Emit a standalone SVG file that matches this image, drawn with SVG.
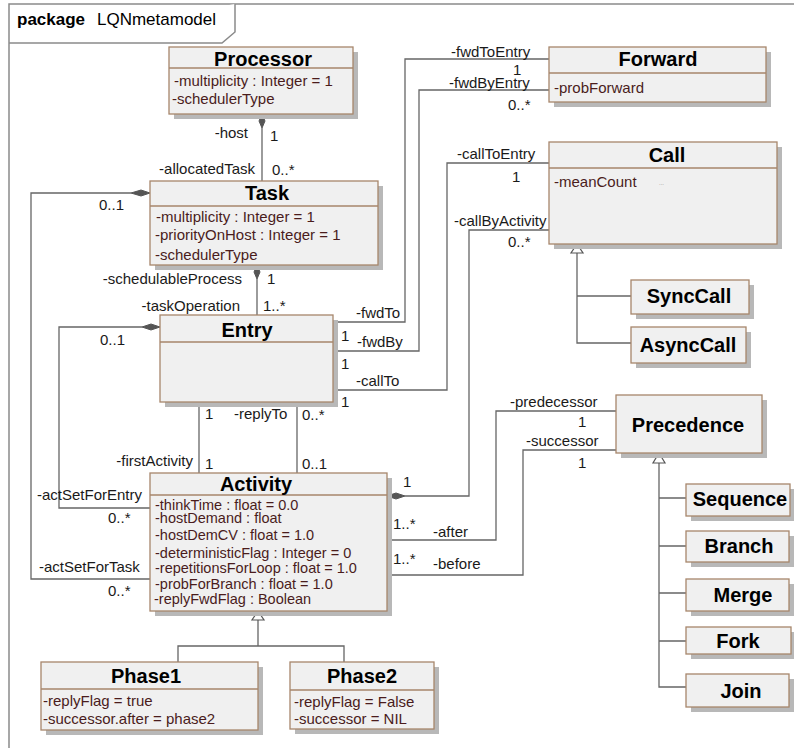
<svg xmlns="http://www.w3.org/2000/svg" width="794" height="748" viewBox="0 0 794 748">
<defs>
<style>
.frame{fill:#fff;stroke:#8a8a8a;stroke-width:1.5}
.sh{fill:#b8b8b8}
.box{fill:#f0f0f0;stroke:#a7866b;stroke-width:1.3}
.sep{stroke:#a7866b;stroke-width:1.3}
.t{font-family:"Liberation Sans",Arial,sans-serif;font-weight:bold;font-size:20px;fill:#000;text-anchor:middle}
.a{font-family:"Liberation Sans",Arial,sans-serif;font-size:15px;fill:#4a1c1c}
.aa{font-family:"Liberation Sans",Arial,sans-serif;font-size:14.5px;fill:#4a1c1c}
.l{font-family:"Liberation Sans",Arial,sans-serif;font-size:15px;fill:#1a1a1a}
.c{stroke:#666;stroke-width:1.3;fill:none}
.dia{fill:#555;stroke:#555;stroke-width:1}
.gen{fill:#fff;stroke:#555;stroke-width:1.2}
</style>
</defs>
<rect width="794" height="748" fill="#fff"/>
<g id="package">
<rect class="frame" x="9" y="4" width="800" height="760"/>
<path class="frame" d="M9,43 H222 L235,32 V4" fill="none"/>
<text x="17" y="25" font-family="Liberation Sans,Arial,sans-serif" font-size="17" font-weight="bold" fill="#000">package</text>
<text x="97" y="25" font-family="Liberation Sans,Arial,sans-serif" font-size="17" fill="#000">LQNmetamodel</text>
</g>
<g id="connectors">
<path class="c" d="M262,128 V181"/>
<path class="dia" d="M262,114 L265,121 L262,128 L259,121 Z"/>
<text class="l" x="248" y="138" text-anchor="end">-host</text>
<text class="l" x="270" y="141">1</text>
<text class="l" x="255" y="174" text-anchor="end">-allocatedTask</text>
<text class="l" x="272" y="175">0..*</text>
<path class="c" d="M131,193 H31 V579 H150"/>
<path class="dia" d="M150,193 L141,196 L131,193 L141,190 Z"/>
<text class="l" x="99" y="210">0..1</text>
<text class="l" x="39" y="572">-actSetForTask</text>
<text class="l" x="108" y="596">0..*</text>
<path class="c" d="M257,279 V315"/>
<path class="dia" d="M257,265 L260,272 L257,279 L254,272 Z"/>
<text class="l" x="242" y="284" text-anchor="end">-schedulableProcess</text>
<text class="l" x="267" y="284">1</text>
<text class="l" x="240" y="311" text-anchor="end">-taskOperation</text>
<text class="l" x="263" y="311">1..*</text>
<path class="c" d="M142,327 H59 V508 H150"/>
<path class="dia" d="M160,327 L151,330 L142,327 L151,324 Z"/>
<text class="l" x="100" y="345">0..1</text>
<text class="l" x="37" y="500">-actSetForEntry</text>
<text class="l" x="108" y="523">0..*</text>
<path class="c" d="M199,402 V473"/>
<path class="c" d="M297,402 V473"/>
<text class="l" x="205" y="419">1</text>
<text class="l" x="234" y="419">-replyTo</text>
<text class="l" x="302" y="420">0..*</text>
<text class="l" x="193" y="466" text-anchor="end">-firstActivity</text>
<text class="l" x="205" y="469">1</text>
<text class="l" x="302" y="469">0..1</text>
<path class="c" d="M549,59 H405 V322 H333"/>
<path class="c" d="M549,90 H419 V351 H333"/>
<text class="l" x="451" y="57">-fwdToEntry</text>
<text class="l" x="513" y="75">1</text>
<text class="l" x="449" y="88">-fwdByEntry</text>
<text class="l" x="508" y="110">0..*</text>
<text class="l" x="356" y="318">-fwdTo</text>
<text class="l" x="341" y="341">1</text>
<text class="l" x="357" y="347">-fwdBy</text>
<text class="l" x="341" y="369">1</text>
<path class="c" d="M549,163 H447 V390 H333"/>
<text class="l" x="457" y="159">-callToEntry</text>
<text class="l" x="512" y="182">1</text>
<text class="l" x="356" y="386">-callTo</text>
<text class="l" x="341" y="407">1</text>
<path class="c" d="M549,230 H469 V496 H405"/>
<path class="dia" d="M387,496 L396,493 L405,496 L396,499 Z"/>
<text class="l" x="454" y="226">-callByActivity</text>
<text class="l" x="508" y="247">0..*</text>
<text class="l" x="403" y="487">1</text>
<path class="c" d="M387,540 H496 V411 H616"/>
<path class="c" d="M387,575 H523 V450 H616"/>
<text class="l" x="510" y="407">-predecessor</text>
<text class="l" x="578" y="427">1</text>
<text class="l" x="526" y="446">-successor</text>
<text class="l" x="578" y="468">1</text>
<text class="l" x="393" y="529">1..*</text>
<text class="l" x="433" y="537">-after</text>
<text class="l" x="393" y="564">1..*</text>
<text class="l" x="433" y="569">-before</text>
<path class="c" d="M577,253 V343 H631 M577,296 H631"/>
<path class="gen" d="M577,244 L583,253 L571,253 Z"/>
<path class="c" d="M659,463 V687 H686 M659,498 H686 M659,546 H686 M659,593 H686 M659,641 H686"/>
<path class="gen" d="M659,453 L665,463 L653,463 Z"/>
<path class="c" d="M258,620 V646 M178,662 V646 H344 V662"/>
<path class="gen" d="M258,611 L264,620 L252,620 Z"/>
</g>
<g id="Processor">
<rect class="sh" x="174" y="52" width="184" height="67"/>
<rect class="box" x="169" y="47" width="184" height="67"/>
<line class="sep" x1="169" y1="68" x2="353" y2="68"/>
<text class="t" x="263" y="66">Processor</text>
<text class="a" x="174" y="86">-multiplicity : Integer = 1</text>
<text class="a" x="172" y="104">-schedulerType</text>
</g>
<g id="Task">
<rect class="sh" x="155" y="186" width="228" height="84"/>
<rect class="box" x="150" y="181" width="228" height="84"/>
<line class="sep" x1="150" y1="206" x2="378" y2="206"/>
<text class="t" x="267" y="200">Task</text>
<text class="a" x="156" y="222">-multiplicity : Integer = 1</text>
<text class="a" x="155" y="240">-priorityOnHost : Integer = 1</text>
<text class="a" x="155" y="260">-schedulerType</text>
</g>
<g id="Entry">
<rect class="sh" x="165" y="320" width="173" height="87"/>
<rect class="box" x="160" y="315" width="173" height="87"/>
<line class="sep" x1="160" y1="342" x2="333" y2="342"/>
<text class="t" x="247" y="337">Entry</text>
</g>
<g id="Activity">
<rect class="sh" x="155" y="478" width="237" height="138"/>
<rect class="box" x="150" y="473" width="237" height="138"/>
<line class="sep" x1="150" y1="495" x2="387" y2="495"/>
<text class="t" x="256" y="491">Activity</text>
<text class="aa" x="155" y="510">-thinkTime : float = 0.0</text>
<text class="aa" x="155" y="523">-hostDemand : float</text>
<text class="aa" x="155" y="540">-hostDemCV : float = 1.0</text>
<text class="aa" x="155" y="558">-deterministicFlag : Integer = 0</text>
<text class="aa" x="155" y="573">-repetitionsForLoop : float = 1.0</text>
<text class="aa" x="155" y="589">-probForBranch : float = 1.0</text>
<text class="aa" x="154" y="604">-replyFwdFlag : Boolean</text>
</g>
<g id="Phase1">
<rect class="sh" x="46" y="667" width="217" height="68"/>
<rect class="box" x="41" y="662" width="217" height="68"/>
<line class="sep" x1="41" y1="689" x2="258" y2="689"/>
<text class="t" x="146" y="683">Phase1</text>
<text class="a" x="43" y="706">-replyFlag = true</text>
<text class="a" x="43" y="724">-successor.after = phase2</text>
</g>
<g id="Phase2">
<rect class="sh" x="295" y="667" width="144" height="67"/>
<rect class="box" x="290" y="662" width="144" height="67"/>
<line class="sep" x1="290" y1="690" x2="434" y2="690"/>
<text class="t" x="362" y="683">Phase2</text>
<text class="a" x="294" y="707">-replyFlag = False</text>
<text class="a" x="294" y="724">-successor = NIL</text>
</g>
<g id="Forward">
<rect class="sh" x="554" y="52" width="217" height="55"/>
<rect class="box" x="549" y="47" width="217" height="55"/>
<line class="sep" x1="549" y1="73" x2="766" y2="73"/>
<text class="t" x="658" y="66">Forward</text>
<text class="a" x="554" y="93" font-size="17">-probForward</text>
</g>
<g id="Call">
<rect class="sh" x="554" y="147" width="228" height="102"/>
<rect class="box" x="549" y="142" width="228" height="102"/>
<line class="sep" x1="549" y1="168" x2="777" y2="168"/>
<text class="t" x="667" y="162">Call</text>
<text class="a" x="554" y="187">-meanCount</text>
<text x="659" y="185" font-family="Liberation Sans,Arial,sans-serif" font-size="6" fill="#888">...</text>
</g>
<g id="SyncCall">
<rect class="sh" x="636" y="285" width="118" height="34"/>
<rect class="box" x="631" y="280" width="118" height="34"/>
<text class="t" x="689" y="303">SyncCall</text>
</g>
<g id="AsyncCall">
<rect class="sh" x="636" y="332" width="115" height="36"/>
<rect class="box" x="631" y="327" width="115" height="36"/>
<text class="t" x="688" y="352">AsyncCall</text>
</g>
<g id="Precedence">
<rect class="sh" x="621" y="400" width="146" height="58"/>
<rect class="box" x="616" y="395" width="146" height="58"/>
<text class="t" x="688" y="432">Precedence</text>
</g>
<g id="Sequence">
<rect class="sh" x="691" y="489" width="104" height="32"/>
<rect class="box" x="686" y="484" width="104" height="32"/>
<text class="t" x="740" y="506">Sequence</text>
</g>
<g id="Branch">
<rect class="sh" x="691" y="536" width="103" height="31"/>
<rect class="box" x="686" y="531" width="103" height="31"/>
<text class="t" x="739" y="553">Branch</text>
</g>
<g id="Merge">
<rect class="sh" x="691" y="584" width="103" height="32"/>
<rect class="box" x="686" y="579" width="103" height="32"/>
<text class="t" x="743" y="602">Merge</text>
</g>
<g id="Fork">
<rect class="sh" x="691" y="632" width="105" height="27"/>
<rect class="box" x="686" y="627" width="105" height="27"/>
<text class="t" x="738" y="648">Fork</text>
</g>
<g id="Join">
<rect class="sh" x="691" y="679" width="103" height="33"/>
<rect class="box" x="686" y="674" width="103" height="33"/>
<text class="t" x="741" y="698">Join</text>
</g>
</svg>
